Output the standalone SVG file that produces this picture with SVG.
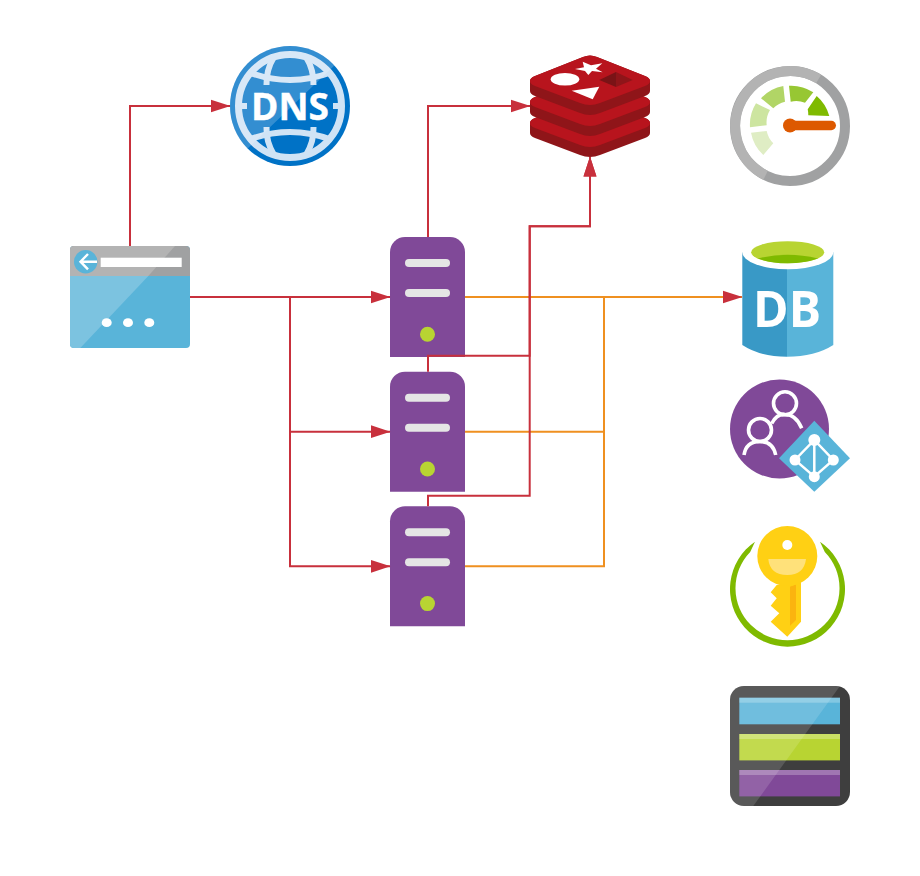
<svg xmlns="http://www.w3.org/2000/svg" width="920" height="876" viewBox="0 0 920 876">
<style>
.red{fill:none;stroke:#c8303c;stroke-width:2}
.org{fill:none;stroke:#ef9020;stroke-width:2}
.lbl{font-family:"Open Sans","Liberation Sans",sans-serif;font-weight:700;fill:#fff}
.globe{fill:none;stroke:#cfe3f5;stroke-width:6}
.ppl{fill:none;stroke:#fff;stroke-width:3.6}
.ad{fill:none;stroke:#fff;stroke-width:2.5}
</style>
<defs>
<marker id="ah" markerUnits="userSpaceOnUse" markerWidth="20" markerHeight="14" refX="19.5" refY="7" orient="auto"><path d="M0 0.500L20 7L0 13.500Z" fill="#c8303c"/></marker>
<g id="srv">
<path d="M0 120V15A15 15 0 0 1 15 0H60A15 15 0 0 1 75 15V120Z" fill="#804998"/>
<rect x="15" y="22" width="45" height="8" rx="4" fill="#e5e5e5"/>
<rect x="15" y="52" width="45" height="8" rx="4" fill="#e5e5e5"/>
<circle cx="37.5" cy="97.3" r="7.5" fill="#b8d432"/>
</g>
<g id="lay">
<path d="M583 57Q590 54 597 57L645 76Q650 78 650 81V91Q650 94 645 96L600 113Q590 117 580 113L535 96Q530 94 530 91V81Q530 78 535 76Z" fill="#8f1519"/>
<path d="M583 57Q590 54 597 57L645 76Q650 78 650 81Q650 84 645 86L600 103Q590 107 580 103L535 86Q530 84 530 81Q530 78 535 76Z" fill="#b8141d"/>
</g>
<clipPath id="cg"><circle cx="290" cy="106" r="60"/></clipPath>
<clipPath id="cs"><rect x="730" y="686" width="120" height="120" rx="14"/></clipPath>
<clipPath id="cb"><rect x="70" y="246" width="120" height="102" rx="4"/></clipPath>
</defs>

<g id="dns">
<circle cx="290" cy="106" r="60" fill="#0072c6"/>
<circle cx="290" cy="106" r="51.500" fill="none" stroke="#cfe3f5" stroke-width="7"/>
<path class="globe" d="M248 72Q290 88 332 72M248 140Q290 124 332 140"/>
<path class="globe" d="M274 57Q266 70 266.500 85M306 57Q314 70 313.500 85M274 155Q266 142 266.500 127M306 155Q314 142 313.500 127"/>
<path class="globe" d="M240 106H247M333 106H340"/>
<polygon points="230,46 350,46 337,63 243,153 230,166" fill="#fff" opacity=".2" clip-path="url(#cg)"/>
<text class="lbl" x="290" y="119.500" font-size="37" text-anchor="middle" stroke="#fff" stroke-width=".4">DNS</text>
</g>

<g id="redis">
<use href="#lay" y="42"/>
<use href="#lay" y="21"/>
<use href="#lay"/>
<ellipse cx="565" cy="79.300" rx="14.300" ry="6.300" fill="#fff"/>
<polygon points="575,69 584,67.300 582.700,61.700 591,65.300 602.300,63.300 596,68.700 602.700,72.300 592,71 588.300,75 585,71" fill="#fff"/>
<polygon points="571.700,90.700 599.300,86.700 592.700,99.300" fill="#fff"/>
<polygon points="599.300,80 616,72 616,87" fill="#7a1316"/>
<polygon points="616,72 632.700,80 616,87" fill="#8f1519"/>
</g>

<g id="gauge">
<circle cx="790" cy="126" r="55" fill="none" stroke="#a0a1a2" stroke-width="10"/>
<path d="M818.600 79A55 55 0 1 0 765.600 175.300" fill="none" stroke="#b3b3b3" stroke-width="10"/>
<path d="M751 132.700A40 40 0 0 0 763.300 155L773.300 143.300A24 24 0 0 1 766.700 131Z" fill="#dfedc4"/>
<path d="M750 127.300A40 40 0 0 1 756 103.300L770 110A24 24 0 0 0 766.700 125.300Z" fill="#cde5a0"/>
<path d="M761 98.300A40 40 0 0 1 783.300 86L785 101.700A24 24 0 0 0 773.300 108.300Z" fill="#b1d566"/>
<path d="M789 85.700A40 40 0 0 1 813.300 92.300L805 102.700A24 24 0 0 0 790.700 101.700Z" fill="#97c733"/>
<path d="M816.700 96A40 40 0 0 1 829.300 116L808.300 115.300A24 24 0 0 0 807.700 109.300Z" fill="#7fba00"/>
<circle cx="790" cy="125.500" r="7" fill="#dd5900"/>
<rect x="790" y="120.800" width="46" height="9.400" rx="4.700" fill="#dd5900"/>
</g>

<g id="browser">
<rect x="70" y="246" width="120" height="102" rx="4" fill="#59b4d9"/>
<g clip-path="url(#cb)">
<rect x="70" y="246" width="120" height="30" fill="#a0a1a2"/>
<polygon points="70,246 175,246 148.300,276 70,276" fill="#b3b3b3"/>
<polygon points="70,276 148.300,276 80.300,348 70,348" fill="#7cc3e0"/>
</g>
<circle cx="85.700" cy="261.700" r="11.700" fill="#59b4d9"/>
<path d="M97 261.700H80M88 254L80.500 261.700L88 269.400" fill="none" stroke="#fff" stroke-width="2.400"/>
<rect x="100.700" y="257.700" width="81" height="9.300" fill="#fff"/>
<ellipse cx="106.700" cy="322.700" rx="5" ry="4.400" fill="#fff"/>
<ellipse cx="128" cy="322.700" rx="5" ry="4.400" fill="#fff"/>
<ellipse cx="149.300" cy="322.700" rx="5" ry="4.400" fill="#fff"/>
</g>

<g id="server1"><use href="#srv" x="390" y="237"/></g>
<g id="server2"><use href="#srv" x="390" y="371.700"/></g>
<g id="server3"><use href="#srv" x="390" y="506.300"/></g>

<g id="db">
<path d="M742.300 252V345Q760 356.700 787 356.700V252Z" fill="#3999c6"/>
<path d="M787 252V356.700Q815 356.700 833.300 345V252Z" fill="#59b4d9"/>
<ellipse cx="787.800" cy="252.300" rx="45.500" ry="17" fill="#fff"/>
<ellipse cx="787.700" cy="252.200" rx="36.500" ry="11" fill="#b8d432"/>
<path d="M758 258.500Q787 251 818 258.500Q805 263.300 787.700 263.300Q770 263.300 758 258.500Z" fill="#7fba00"/>
<text class="lbl" x="787" y="326.500" font-size="51" text-anchor="middle" textLength="68" lengthAdjust="spacingAndGlyphs">DB</text>
</g>

<g id="ad">
<circle cx="779.500" cy="429" r="49.500" fill="#804998"/>
<circle class="ppl" cx="785" cy="403.300" r="11.500"/>
<path class="ppl" d="M771.700 423.500Q777 413.500 785 414.500Q796 414.500 801.700 428.300"/>
<circle class="ppl" cx="760" cy="430" r="11.500"/>
<path class="ppl" d="M744 455Q746 441.500 760 441.500Q773 441.500 775.700 455"/>
<polygon points="814.300,420.700 850,458.300 814.300,491.700 779,458.300" fill="#59b4d9"/>
<path class="ad" d="M814.300 440V476.700M814.300 440L795 460L814.300 476.700L833.300 460Z"/>
<circle cx="814.300" cy="440" r="6" fill="#fff"/>
<circle cx="795" cy="460" r="5.500" fill="#fff"/>
<circle cx="833.300" cy="460" r="5.500" fill="#fff"/>
<circle cx="814.300" cy="476.700" r="5.500" fill="#fff"/>
</g>

<g id="key">
<path d="M755 541.700A57.500 57.500 0 1 0 820 541.700L824.800 551.900A52 52 0 1 1 750.200 551.900Z" fill="#7fba00"/>
<polygon points="776.700,585 770.700,592.300 776.700,598.300 770.700,605.700 779.300,613.300 770.700,621.700 787.300,636.700 801,621.700 801,581" fill="#ffd014"/>
<polygon points="790,586.700 796,584.300 796,620 790,625.700" fill="#fbb40f"/>
<circle cx="787.300" cy="556" r="30" fill="#ffd014"/>
<circle cx="787.300" cy="545" r="5" fill="#fff"/>
<path d="M768.300 559H806Q804 575 787.300 575Q770 575 768.300 559Z" fill="#ffe17a"/>
</g>

<g id="storage">
<rect x="730" y="686" width="120" height="120" rx="14" fill="#3e3e3e"/>
<rect x="739.300" y="697.700" width="100.700" height="26.600" fill="#59b4d9"/>
<rect x="739.300" y="734" width="100.700" height="26.400" fill="#b8d432"/>
<rect x="739.300" y="770" width="100.700" height="26.400" fill="#804998"/>
<rect x="739.300" y="697.700" width="100.700" height="5" fill="#fff" opacity=".25"/>
<rect x="739.300" y="734" width="100.700" height="5" fill="#fff" opacity=".25"/>
<rect x="739.300" y="770" width="100.700" height="5" fill="#fff" opacity=".25"/>
<polygon points="730,686 840,686 753.300,806 730,806" fill="#fff" opacity=".14" clip-path="url(#cs)"/>
</g>

<g id="connectors">
<path class="org" d="M465 297H742" marker-end="url(#ah)"/>
<path class="org" d="M465 431.700H604V297"/>
<path class="org" d="M465 566.300H604V297"/>
<path class="red" d="M130 246V106H230" marker-end="url(#ah)"/>
<path class="red" d="M190 297H390" marker-end="url(#ah)"/>
<path class="red" d="M290 297V431.700H390" marker-end="url(#ah)"/>
<path class="red" d="M290 297V566.300H390" marker-end="url(#ah)"/>
<path class="red" d="M428 237V106H530" marker-end="url(#ah)"/>
<path class="red" d="M428 371.700V355.700H529.700V226.300H590V157" marker-end="url(#ah)"/>
<path class="red" d="M428 506.300V495.700H529.700V226.300H590V157" marker-end="url(#ah)"/>
</g>
</svg>
